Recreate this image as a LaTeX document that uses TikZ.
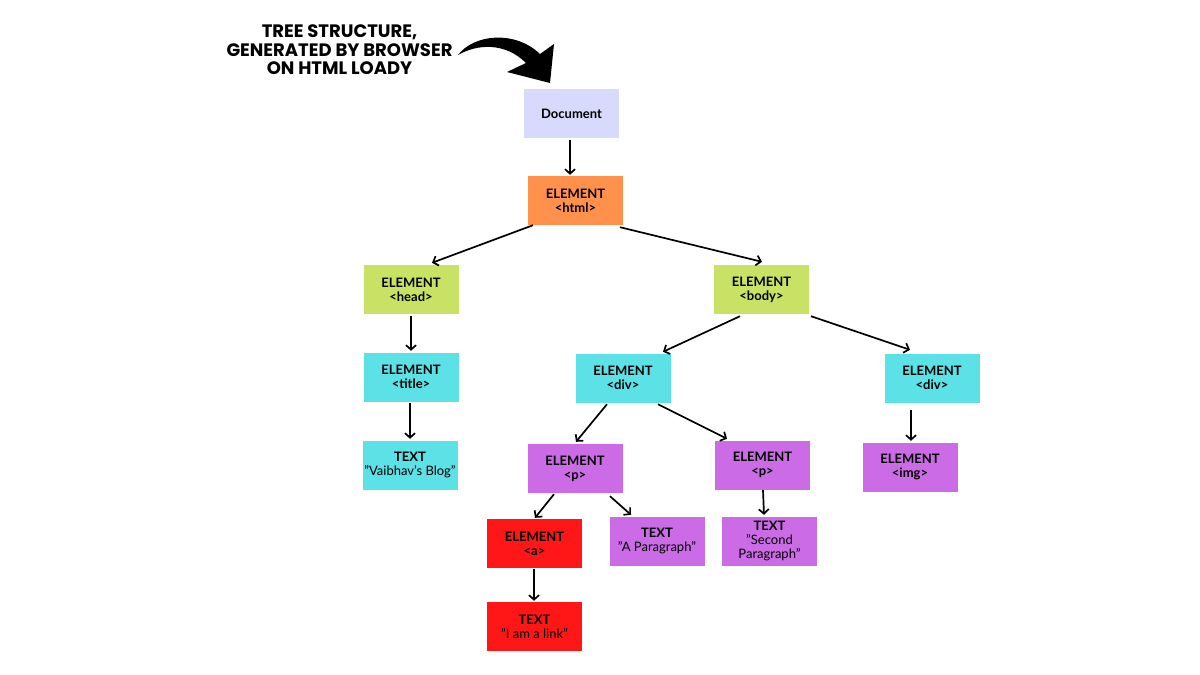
\documentclass[tikz,border=0pt]{standalone}
\usepackage{fontspec}
\setmainfont{Lato}
\newfontfamily\titlefont{Poppins}
\usetikzlibrary{arrows.meta,calc}
\definecolor{cdoc}{HTML}{D7DAFC}
\definecolor{chtml}{HTML}{FF914D}
\definecolor{clime}{HTML}{C9E265}
\definecolor{ccyan}{HTML}{5CE1E6}
\definecolor{cpurp}{HTML}{CB6CE6}
\definecolor{cred}{HTML}{FF1616}
\newcommand{\qq}{\symbol{"22}}
\tikzset{
  box/.style={rectangle, minimum width=95pt, minimum height=49pt, inner sep=0pt, align=center, font=\fontsize{13}{14}\selectfont, text=black},
  arr/.style={-{Straight Barb[length=4.5pt,width=10pt]}, line width=1.7pt, black},
}
\begin{document}
\begin{tikzpicture}[x=1pt,y=-1pt]
\fill[white] (0,0) rectangle (1200,675);
\useasboundingbox (0,0) rectangle (1200,675);

% title
\node[align=center, font=\titlefont\bfseries\fontsize{18}{18.5}\selectfont, inner sep=0pt] (title) at (339.5,50)
  {TREE STRUCTURE,\\GENERATED BY BROWSER\\ON HTML LOADY};
% big curved arrow
\fill[black] (458,55) .. controls (474,34) and (515,30) .. (540,54)
  -- (554,44) -- (550,83) -- (507,72) -- (526,63)
  .. controls (505,42) and (477,44) .. (458,55) -- cycle;

\node[box, fill=cdoc] (doc) at (571.5,113.5) {\bfseries Document};
\node[box, fill=chtml] (html) at (575.5,200.5) {\bfseries ELEMENT\\\bfseries <html>};
\node[box, fill=clime] (head) at (411,289.5) {\bfseries ELEMENT\\\bfseries <head>};
\node[box, fill=clime] (body) at (761.5,289.5) {\bfseries ELEMENT\\\bfseries <body>};
\node[box, fill=ccyan] (titl) at (411,377) {\bfseries ELEMENT\\\bfseries <title>};
\node[box, fill=ccyan] (vb) at (410,465) {\bfseries TEXT\\\qq Vaibhav's Blog\qq};
\node[box, fill=ccyan] (div1) at (623,378) {\bfseries ELEMENT\\\bfseries <div>};
\node[box, fill=ccyan] (div2) at (932,378) {\bfseries ELEMENT\\\bfseries <div>};
\node[box, fill=cpurp] (p1) at (575,468.5) {\bfseries ELEMENT\\\bfseries <p>};
\node[box, fill=cpurp] (p2) at (762.5,465) {\bfseries ELEMENT\\\bfseries <p>};
\node[box, fill=cpurp] (img) at (910,467) {\bfseries ELEMENT\\\bfseries <img>};
\node[box, fill=cred] (a) at (534.5,543.5) {\bfseries ELEMENT\\\bfseries <a>};
\node[box, fill=cpurp] (apar) at (657,541) {\bfseries TEXT\\\qq A Paragraph\qq};
\node[box, fill=cpurp] (sec) at (769.5,541) {\bfseries TEXT\\\qq Second\\Paragraph\qq};
\node[box, fill=cred] (link) at (534.5,626.5) {\bfseries TEXT\\\qq I am a link\qq};

\draw[arr] ($(doc.south)+(-1.5,2)$) -- ($(html.north)+(-5.5,-1)$);
\draw[arr] ($(html.south)+(-42.5,0)$) -- ($(head.north)+(21,-2)$);
\draw[arr] ($(html.south)+(44.5,2)$) -- ($(body.north)+(0.5,-3)$);
\draw[arr] ($(head.south)+(0,2)$) -- ($(titl.north)+(0,-1.5)$);
\draw[arr] ($(titl.south)+(-1,1.5)$) -- ($(vb.north)+(0,-1.5)$);
\draw[arr] ($(body.south)+(-21.5,2)$) -- ($(div1.north)+(40,-1.5)$);
\draw[arr] ($(body.south)+(49.5,2)$) -- ($(div2.north)+(-22,-3.5)$);
\draw[arr] ($(div1.south)+(-16,1.5)$) -- ($(p1.north)+(1,-2)$);
\draw[arr] ($(div1.south)+(35,1.5)$) -- ($(p2.north)+(-35.5,-1.5)$);
\draw[arr] ($(div2.south)+(-21,7)$) -- ($(img.north)+(1,-1.5)$);
\draw[arr] ($(p1.south)+(-21,1)$) -- ($(a.north)+(0.5,-1)$);
\draw[arr] ($(p1.south)+(35,3)$) -- ($(apar.north)+(-26,-1.5)$);
\draw[arr] ($(p2.south)+(0.5,0.5)$) -- ($(sec.north)+(-5.5,-1.5)$);
\draw[arr] ($(a.south)+(-0.5,1)$) -- ($(link.north)+(-0.5,-1)$);
\end{tikzpicture}
\end{document}
